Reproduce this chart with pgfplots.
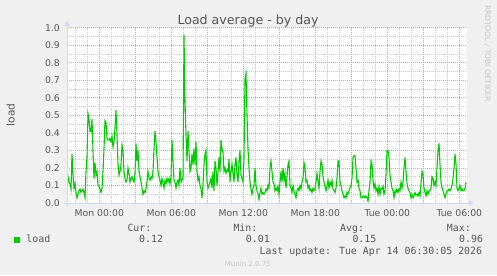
\documentclass[border=0pt]{standalone}
\usepackage{fontspec}
\setmainfont{DejaVu Sans}
\newfontfamily\monofont{DejaVu Sans Mono}
\usepackage{pgfplots}
\usepackage{pgfplotstable}
\pgfplotsset{compat=1.18}
\definecolor{bgcol}{HTML}{F0F0F0}
\definecolor{axiscol}{HTML}{CFD6F8}
\definecolor{txtcol}{HTML}{555555}
\definecolor{mgrid}{HTML}{E09A9A}
\definecolor{ngrid}{HTML}{C8C8C8}
\definecolor{loadcol}{HTML}{00CC00}
\definecolor{wmcol}{HTML}{C4C4C4}

% load average, one sample per 5 minutes (one pixel), first sample at Sun 21:18
\pgfplotstableread[row sep=\\]{
load\\
0.085\\ 0.15\\ 0.12\\ 0.11\\ 0.08\\ 0.28\\ 0.16\\ 0.085\\ 0.11\\ 0.06\\
0.03\\ 0.05\\ 0.07\\ 0.08\\ 0.06\\ 0.07\\ 0.08\\ 0.06\\ 0.03\\ 0.18\\
0.26\\ 0.51\\ 0.48\\ 0.41\\ 0.41\\ 0.48\\ 0.30\\ 0.14\\ 0.23\\ 0.16\\
0.18\\ 0.10\\ 0.095\\ 0.08\\ 0.06\\ 0.085\\ 0.18\\ 0.31\\ 0.47\\ 0.46\\
0.37\\ 0.36\\ 0.36\\ 0.37\\ 0.35\\ 0.38\\ 0.32\\
0.35\\ 0.43\\ 0.53\\ 0.39\\ 0.22\\ 0.16\\ 0.18\\ 0.22\\ 0.33\\ 0.30\\
0.18\\ 0.14\\ 0.12\\ 0.13\\ 0.20\\ 0.17\\ 0.12\\ 0.14\\ 0.15\\ 0.13\\
0.12\\ 0.17\\ 0.34\\ 0.24\\ 0.30\\ 0.18\\ 0.15\\ 0.12\\ 0.085\\ 0.05\\
0.07\\ 0.06\\ 0.08\\ 0.12\\ 0.18\\ 0.14\\ 0.13\\ 0.15\\ 0.14\\ 0.18\\
0.31\\ 0.41\\ 0.35\\ 0.26\\ 0.18\\ 0.15\\ 0.13\\ 0.10\\ 0.14\\ 0.11\\
0.085\\ 0.13\\ 0.11\\ 0.14\\ 0.12\\ 0.14\\ 0.11\\ 0.15\\ 0.36\\ 0.24\\
0.13\\ 0.12\\ 0.085\\ 0.12\\ 0.13\\ 0.10\\ 0.20\\ 0.12\\ 0.13\\ 0.15\\
0.96\\ 0.58\\ 0.39\\ 0.24\\ 0.41\\ 0.30\\ 0.18\\ 0.20\\ 0.28\\ 0.22\\
0.31\\ 0.22\\ 0.35\\ 0.18\\ 0.13\\ 0.15\\ 0.10\\ 0.08\\ 0.03\\ 0.11\\
0.22\\ 0.28\\ 0.30\\ 0.12\\ 0.085\\ 0.10\\ 0.12\\ 0.14\\ 0.085\\ 0.18\\
0.07\\ 0.24\\ 0.20\\ 0.10\\ 0.18\\ 0.26\\ 0.18\\ 0.36\\ 0.31\\ 0.29\\
0.18\\ 0.20\\ 0.17\\ 0.19\\ 0.18\\ 0.25\\ 0.12\\ 0.18\\ 0.22\\ 0.17\\
0.12\\ 0.22\\ 0.26\\ 0.16\\ 0.12\\ 0.24\\ 0.30\\ 0.16\\ 0.14\\ 0.12\\
0.26\\ 0.71\\ 0.74\\ 0.50\\ 0.31\\ 0.20\\ 0.12\\ 0.08\\ 0.05\\ 0.085\\
0.10\\ 0.20\\ 0.10\\ 0.07\\ 0.05\\ 0.02\\ 0.06\\ 0.085\\ 0.05\\ 0.06\\
0.05\\ 0.06\\ 0.08\\ 0.07\\ 0.10\\ 0.085\\ 0.20\\ 0.24\\ 0.18\\ 0.12\\
0.11\\ 0.07\\ 0.085\\ 0.07\\ 0.095\\ 0.05\\ 0.12\\ 0.18\\ 0.12\\ 0.20\\
0.13\\ 0.17\\ 0.085\\ 0.15\\ 0.22\\ 0.24\\ 0.10\\ 0.085\\ 0.06\\ 0.10\\
0.07\\ 0.05\\ 0.03\\ 0.07\\ 0.085\\ 0.07\\ 0.10\\ 0.08\\ 0.12\\ 0.14\\
0.23\\ 0.20\\ 0.12\\ 0.13\\ 0.085\\ 0.10\\ 0.07\\ 0.08\\ 0.06\\ 0.085\\
0.07\\ 0.08\\ 0.12\\ 0.17\\ 0.12\\ 0.085\\ 0.18\\ 0.24\\ 0.22\\ 0.15\\
0.12\\ 0.095\\ 0.07\\ 0.10\\ 0.13\\ 0.085\\ 0.12\\ 0.10\\ 0.13\\ 0.08\\
0.07\\ 0.06\\ 0.085\\ 0.14\\ 0.24\\ 0.24\\ 0.12\\ 0.10\\ 0.07\\ 0.05\\
0.03\\ 0.04\\ 0.03\\ 0.06\\ 0.05\\ 0.07\\ 0.085\\ 0.10\\ 0.14\\ 0.26\\
0.27\\ 0.27\\ 0.20\\ 0.12\\ 0.13\\ 0.085\\ 0.07\\ 0.03\\ 0.03\\ 0.04\\
0.04\\ 0.03\\ 0.04\\ 0.03\\ 0.01\\ 0.07\\ 0.12\\ 0.24\\ 0.22\\ 0.13\\
0.085\\ 0.11\\ 0.07\\ 0.085\\ 0.05\\ 0.095\\ 0.05\\ 0.085\\ 0.08\\ 0.095\\
0.05\\ 0.07\\ 0.16\\ 0.30\\ 0.30\\ 0.26\\ 0.16\\ 0.12\\ 0.085\\ 0.07\\
0.03\\ 0.07\\ 0.06\\ 0.08\\ 0.06\\ 0.08\\ 0.07\\ 0.12\\ 0.085\\ 0.12\\
0.20\\ 0.26\\ 0.18\\ 0.11\\ 0.085\\ 0.07\\ 0.06\\ 0.03\\ 0.05\\ 0.03\\
0.04\\ 0.06\\ 0.045\\ 0.05\\ 0.04\\ 0.06\\ 0.04\\ 0.11\\ 0.18\\ 0.16\\
0.085\\ 0.06\\ 0.04\\ 0.07\\ 0.05\\ 0.07\\ 0.07\\ 0.085\\ 0.15\\ 0.14\\
0.10\\ 0.12\\ 0.10\\ 0.20\\ 0.30\\ 0.34\\ 0.22\\ 0.12\\ 0.085\\ 0.07\\
0.05\\ 0.03\\ 0.05\\ 0.07\\ 0.07\\ 0.08\\ 0.07\\ 0.08\\ 0.10\\ 0.14\\
0.20\\ 0.28\\ 0.22\\ 0.085\\ 0.07\\ 0.085\\ 0.10\\ 0.07\\ 0.08\\ 0.07\\
0.07\\ 0.085\\ 0.12\\
}\loaddata

\begin{document}
\begin{tikzpicture}[x=1bp,y=1bp]
\fill[bgcol] (0,0) rectangle (497,275);
\useasboundingbox (0,0) rectangle (497,275);
\begin{axis}[
  at={(67bp,72bp)}, anchor=south west,
  scale only axis, width=400bp, height=175bp,
  xmin=-2.6942, xmax=30.639, ymin=0, ymax=1,
  axis background/.style={fill=white},
  axis line style={draw=none},
  xtick={0,3,6,9,12,15,18,21,24,27,30},
  xticklabels={Mon 00:00,,Mon 06:00,,Mon 12:00,,Mon 18:00,,Tue 00:00,,Tue 06:00},
  minor xtick={-2,-1,0,1,2,3,4,5,6,7,8,9,10,11,12,13,14,15,16,17,18,19,20,21,22,23,24,25,26,27,28,29,30},
  ytick={0,0.1,0.2,0.3,0.4,0.5,0.6,0.7,0.8,0.9,1.0},
  minor ytick={0.05,0.15,0.25,0.35,0.45,0.55,0.65,0.75,0.85,0.95},
  grid=both,
  major grid style={draw=mgrid, line width=1bp, dash pattern=on 1bp off 1bp},
  minor grid style={draw=ngrid, line width=1bp, dash pattern=on 1bp off 1bp},
  major tick length=0pt, minor tick length=0pt,
  tick style={draw=none},
  /pgf/number format/assume math mode=true,
  ticklabel style={font=\fontsize{9.3bp}{11bp}\selectfont, text=txtcol, inner sep=0pt},
  xticklabel style={anchor=base, yshift=-13.2bp},
  yticklabel style={anchor=east, xshift=-7bp,
    /pgf/number format/fixed, /pgf/number format/fixed zerofill,
    /pgf/number format/precision=1},
  clip=true,
]
\addplot[loadcol, line width=1.1bp, no markers] table[x expr={(\coordindex+67-99.33)/12}, y=load]{\loaddata};
\end{axis}
% axes
\draw[axiscol, line width=1bp] (64,72) -- (470,72);
\fill[axiscol] (474,72) -- (469,74.8) -- (469,69.2) -- cycle;
\draw[axiscol, line width=1bp] (67,69) -- (67,250);
\fill[axiscol] (67,254) -- (64.2,249) -- (69.8,249) -- cycle;
% texts
\node[anchor=base, inner sep=0pt, text=txtcol, font=\fontsize{12.6bp}{14bp}\selectfont] at (248,251) {Load average - by day};
\node[rotate=90, inner sep=0pt, text=txtcol, font=\fontsize{10.6bp}{12bp}\selectfont] at (10.7,160.3) {load};
\node[rotate=-90, inner sep=0pt, text=wmcol, font=\fontsize{7.5bp}{9bp}\selectfont] at (487.5,221.7) {RRDTOOL / TOBI OETIKER};
% legend
\fill[loadcol] (14,32.5) rectangle (19.5,38);
\begin{scope}[every node/.style={inner sep=0pt, text=txtcol, font=\monofont\fontsize{9.9bp}{12bp}\selectfont}]
\node[anchor=base west] at (26.3,32.1) {load};
\node[anchor=base west] at (127.3,43.4) {Cur:};
\node[anchor=base west] at (233.3,43.4) {Min:};
\node[anchor=base west] at (340,43.4) {Avg:};
\node[anchor=base west] at (446.7,43.4) {Max:};
\node[anchor=base west] at (139,32.1) {0.12};
\node[anchor=base west] at (245.7,32.1) {0.01};
\node[anchor=base west] at (352.3,32.1) {0.15};
\node[anchor=base west] at (459,32.1) {0.96};
\node[anchor=base east] at (482.3,20.2) {Last update: Tue Apr 14 06:30:05 2026};
\end{scope}
\node[anchor=base, inner sep=0pt, text=wmcol, font=\fontsize{7bp}{8bp}\selectfont] at (247.8,8.4) {Munin 2.0.75};
\end{tikzpicture}
\end{document}
